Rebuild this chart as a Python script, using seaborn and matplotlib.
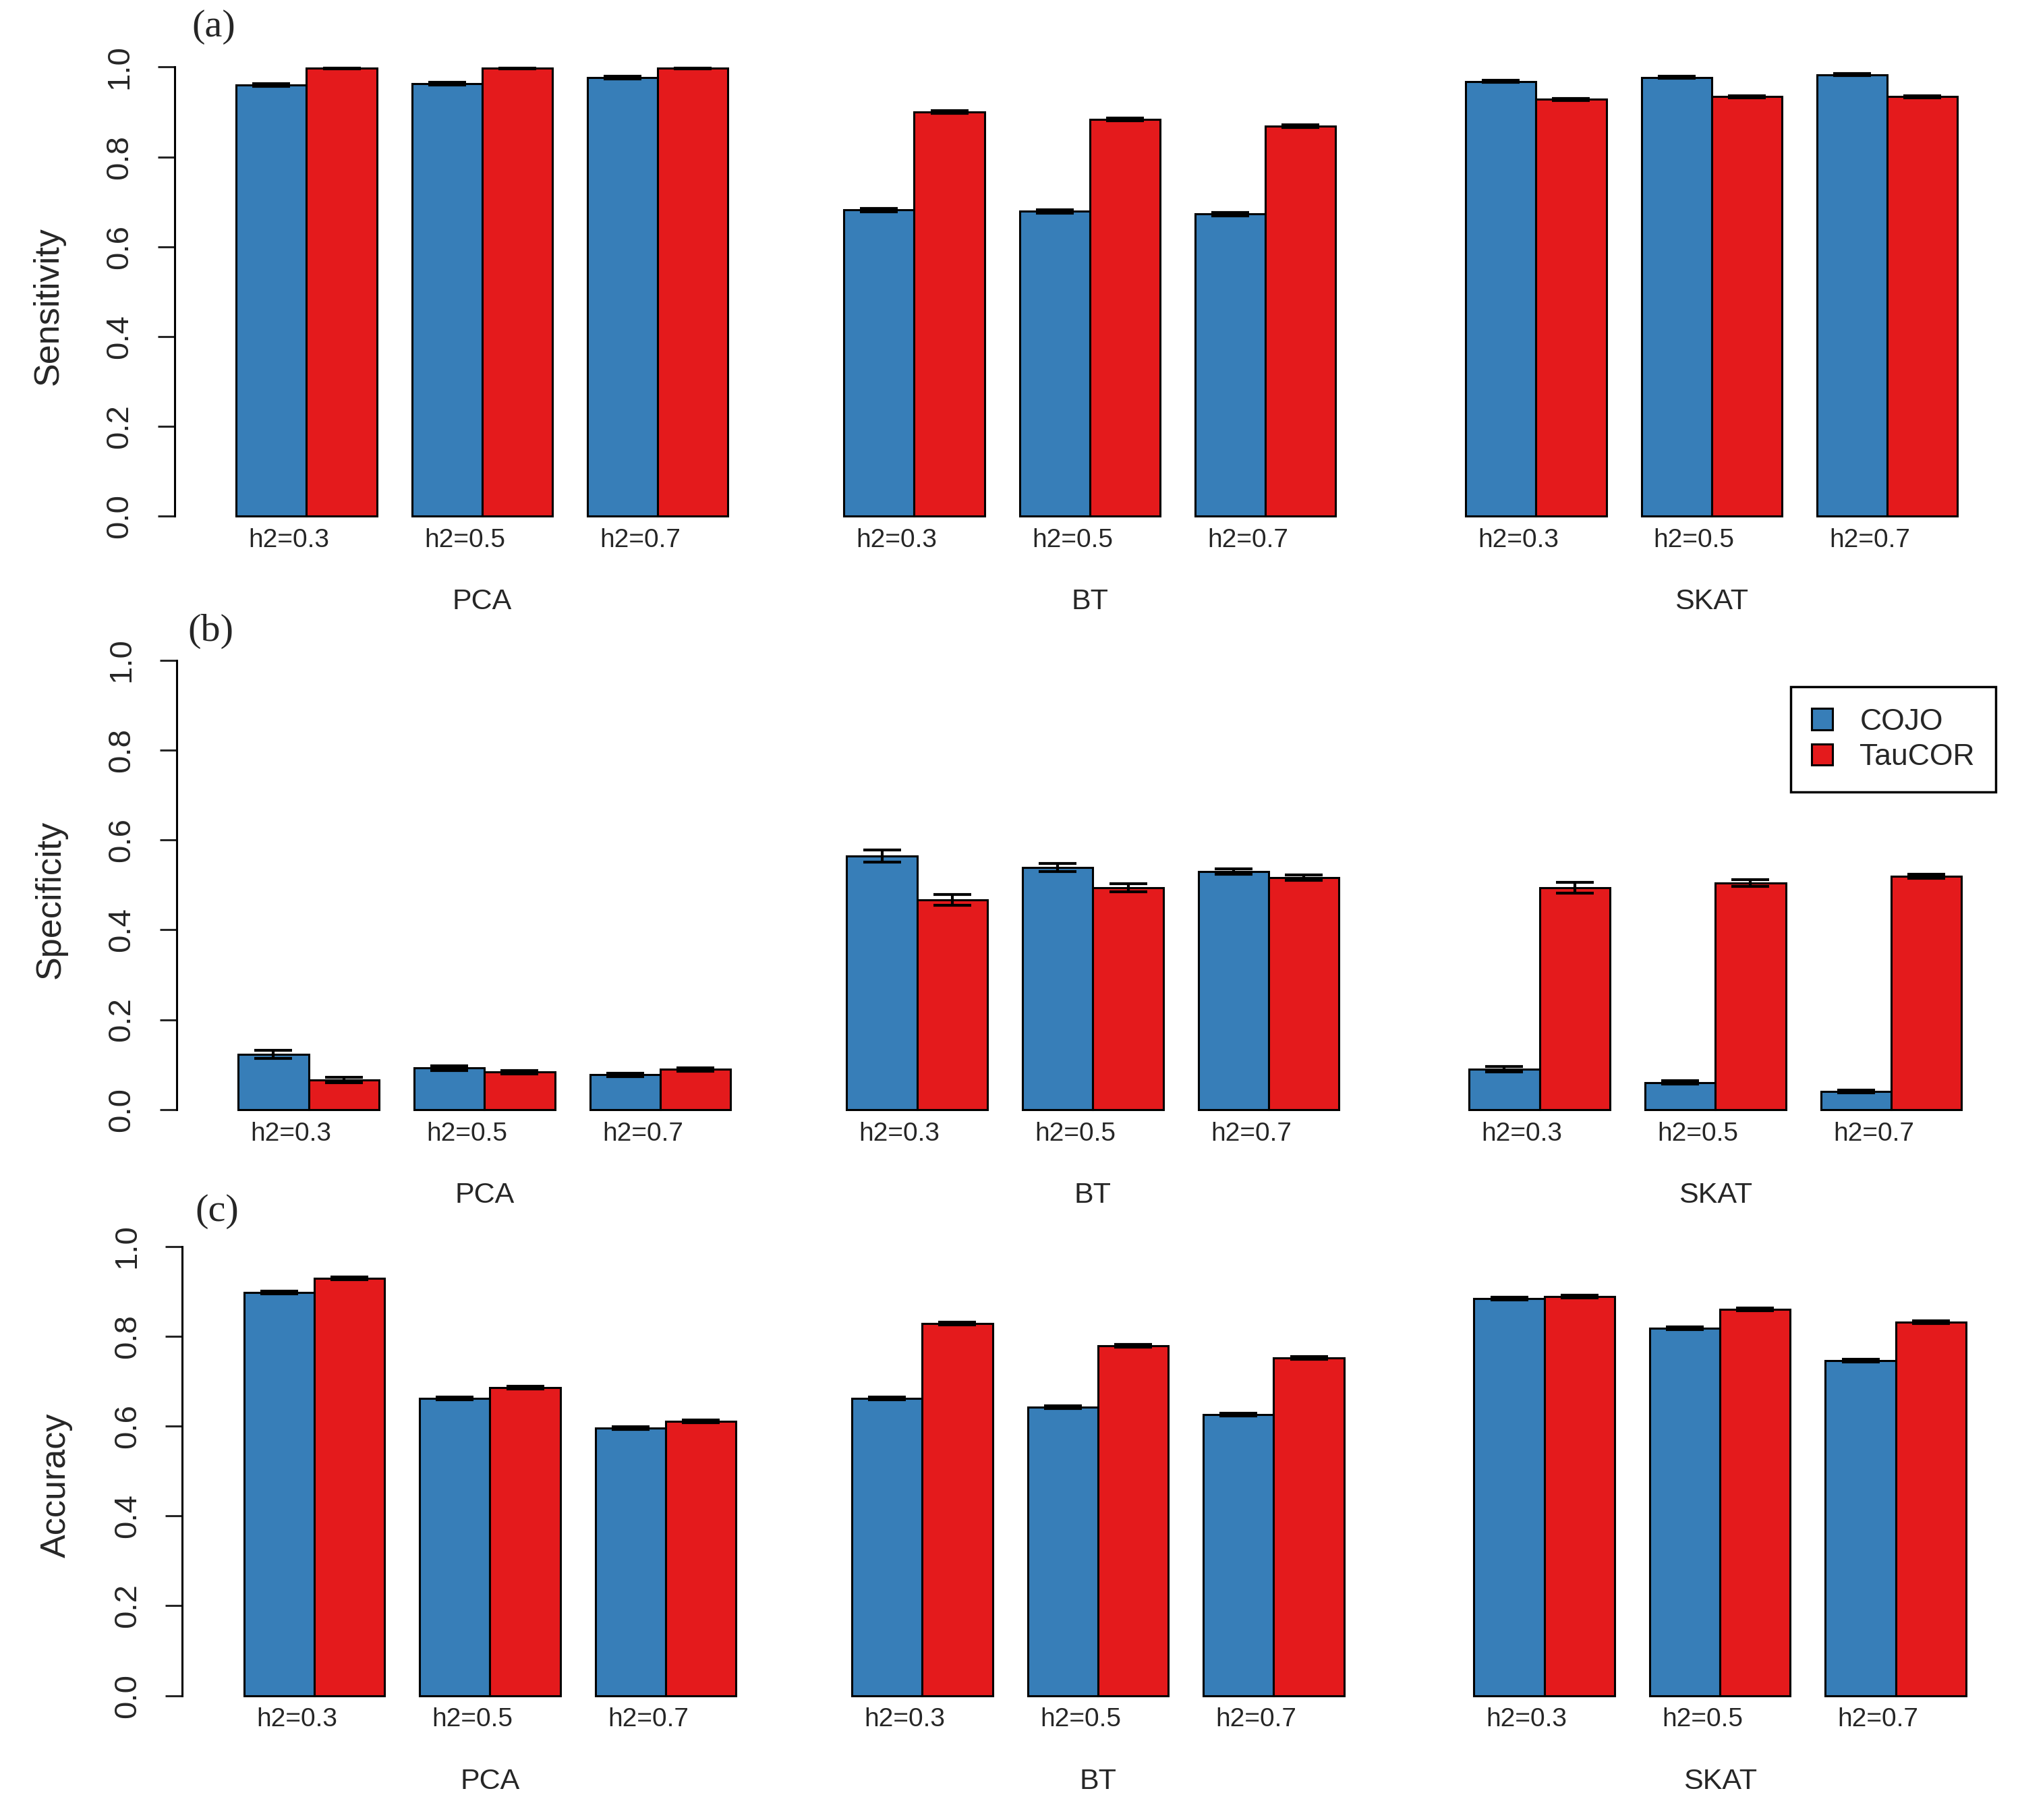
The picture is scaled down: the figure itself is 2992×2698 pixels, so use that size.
import matplotlib
matplotlib.use("Agg")
import matplotlib.pyplot as plt
from matplotlib.patches import Patch
import seaborn as sns
import pandas as pd
import numpy as np

# values
methods = ["PCA", "BT", "SKAT"]
h2_labels = ["h2=0.3", "h2=0.5", "h2=0.7"]
tools = ["COJO", "TauCOR"]

sens_cojo = [0.960, 0.963, 0.977, 0.682, 0.679, 0.673, 0.968, 0.977, 0.983]
sens_taucor = [0.997, 0.997, 0.997, 0.900, 0.883, 0.868, 0.928, 0.934, 0.934]
sens_cojo_se = [0.003, 0.003, 0.003, 0.004, 0.004, 0.004, 0.002, 0.002, 0.002]
sens_taucor_se = [0.001, 0.001, 0.001, 0.003, 0.003, 0.003, 0.002, 0.002, 0.002]

spec_cojo = [0.123, 0.092, 0.077, 0.564, 0.539, 0.530, 0.089, 0.060, 0.040]
spec_taucor = [0.066, 0.083, 0.089, 0.467, 0.493, 0.516, 0.493, 0.504, 0.519]
spec_cojo_se = [0.009, 0.005, 0.004, 0.013, 0.009, 0.006, 0.006, 0.004, 0.003]
spec_taucor_se = [0.006, 0.004, 0.004, 0.012, 0.009, 0.006, 0.012, 0.007, 0.005]

acc_cojo = [0.897, 0.662, 0.596, 0.662, 0.642, 0.625, 0.883, 0.817, 0.745]
acc_taucor = [0.928, 0.685, 0.610, 0.828, 0.779, 0.751, 0.888, 0.860, 0.831]
acc_cojo_se = [0.003, 0.003, 0.003, 0.003, 0.003, 0.003, 0.003, 0.003, 0.003]
acc_taucor_se = [0.003, 0.003, 0.003, 0.003, 0.003, 0.003, 0.003, 0.003, 0.003]

panels = [
    ("(a)", "Sensitivity", sens_cojo, sens_taucor, sens_cojo_se, sens_taucor_se),
    ("(b)", "Specificity", spec_cojo, spec_taucor, spec_cojo_se, spec_taucor_se),
    ("(c)", "Accuracy", acc_cojo, acc_taucor, acc_cojo_se, acc_taucor_se),
]

colors = {"COJO": "#377EB8", "TauCOR": "#E41A1C"}
block_start = [0, 3.46, 7.0]  # where each method block begins, in bar-group units

sns.set_style("white")
plt.rcParams["font.family"] = ["Liberation Sans", "DejaVu Sans"]

fig = plt.figure(figsize=(29.92, 26.98), dpi=100)

# axes rectangles [left, bottom, width, height] in figure fraction
rects = [
    [0.0866, 0.7065, 0.9052, 0.2665],
    [0.0876, 0.3805, 0.9062, 0.2667],
    [0.0904, 0.0585, 0.9056, 0.2666],
]
panel_pos = [(0.106, 0.985), (0.1045, 0.6530), (0.1077, 0.3345)]

lw = 2.2
for i, (tag, ylab, cojo, tau, cojo_se, tau_se) in enumerate(panels):
    rows = []
    for m, meth in enumerate(methods):
        for k, h2 in enumerate(h2_labels):
            j = m * 3 + k
            pos = block_start[m] + k
            rows.append(dict(method=meth, h2=h2, tool="COJO", pos=pos, value=cojo[j], se=cojo_se[j]))
            rows.append(dict(method=meth, h2=h2, tool="TauCOR", pos=pos, value=tau[j], se=tau_se[j]))
    df = pd.DataFrame(rows)

    ax = fig.add_axes(rects[i])
    sns.barplot(data=df, x="pos", y="value", hue="tool", hue_order=tools,
                palette=colors, native_scale=True, width=0.8, saturation=1,
                edgecolor="black", linewidth=lw, errorbar=None, legend=False, ax=ax)

    # error bars on top of each bar, positions taken from the drawn patches
    positions = df["pos"].unique()
    for p in ax.patches:
        c = p.get_x() + p.get_width() / 2
        pos = positions[np.argmin(np.abs(positions - c))]
        tool = "COJO" if c < pos else "TauCOR"
        se = df.loc[(df["pos"] == pos) & (df["tool"] == tool), "se"].iloc[0]
        ax.errorbar(c, p.get_height(), yerr=se, color="black", lw=3,
                    capsize=20, capthick=3, zorder=5)

    ax.set_xlim(-0.75, 9.65)
    ax.set_ylim(-0.04, 1.04)
    ax.set_yticks([0, 0.2, 0.4, 0.6, 0.8, 1.0])
    ax.set_yticklabels(["0.0", "0.2", "0.4", "0.6", "0.8", "1.0"])
    ax.tick_params(axis="y", left=True, length=25 * 0.72, width=lw, pad=25,
                   labelsize=34, labelrotation=90)
    for t in ax.get_yticklabels():
        t.set_va("center")
    ax.set_xticks([])
    ax.set_xlabel("")
    ax.set_ylabel(ylab, fontsize=37.5)
    ax.yaxis.set_label_coords(-0.060, 0.47)
    sns.despine(ax=ax, bottom=True)
    ax.spines["left"].set_bounds(0, 1)
    ax.spines["left"].set_linewidth(lw)
    ax.spines["left"].set_color("black")

    # h2 labels under each pair, method names under each block
    for m, meth in enumerate(methods):
        for k, h2 in enumerate(h2_labels):
            ax.text(block_start[m] + k - 0.1, -0.054, h2, ha="center", va="center",
                    fontsize=28, clip_on=False)
        ax.text(block_start[m] + 1, -0.191, meth, ha="center", va="center",
                fontsize=31, clip_on=False)

    fig.text(panel_pos[i][0], panel_pos[i][1], tag, ha="center", va="center",
             fontsize=42, family=["Liberation Serif", "DejaVu Serif"])

    if i == 1:
        handles = [Patch(facecolor=colors[t], edgecolor="black", linewidth=lw) for t in tools]
        leg = ax.legend(handles, tools, loc="upper right", bbox_to_anchor=(0.989, 0.6225),
                        bbox_transform=fig.transFigure, fontsize=32, frameon=True,
                        fancybox=False, framealpha=1, edgecolor="black", borderpad=0.7,
                        handlelength=0.7, handleheight=0.7, handletextpad=0.9,
                        labelspacing=0.25, borderaxespad=0)
        leg.get_frame().set_linewidth(2.5)

fig.savefig("out.png", dpi=100)
